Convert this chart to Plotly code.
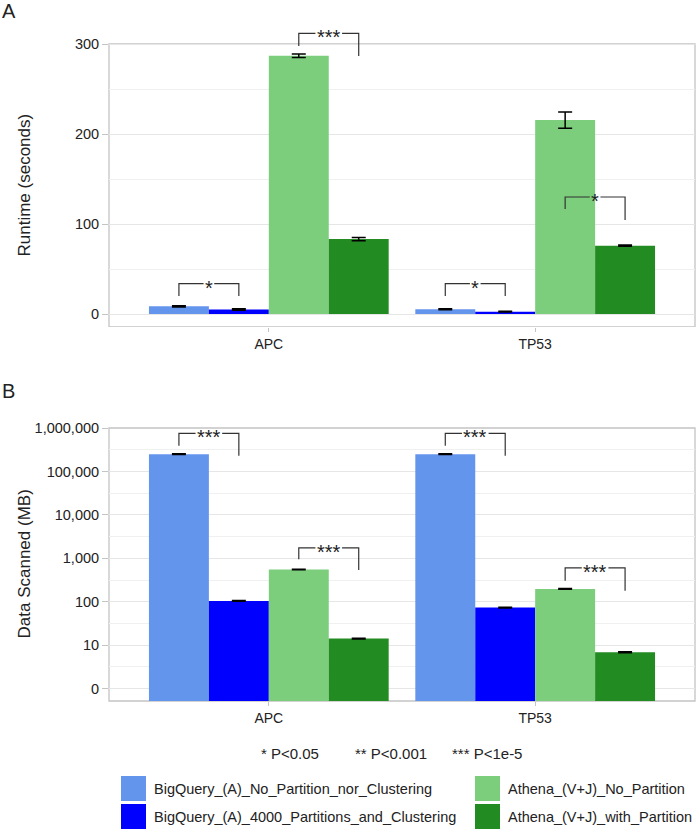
import plotly.graph_objects as go
from plotly.subplots import make_subplots

# ---------------- data ----------------
categories = ["APC", "TP53"]
series = [
    "BigQuery_(A)_No_Partition_nor_Clustering",
    "BigQuery_(A)_4000_Partitions_and_Clustering",
    "Athena_(V+J)_No_Partition",
    "Athena_(V+J)_with_Partition",
]
colors = ["#6495ED", "#0000FF", "#7CCD7C", "#228B22"]

runtime_s1 = [8.5, 5.2]
runtime_s2 = [5.0, 2.6]
runtime_s3 = [287.0, 215.5]
runtime_s4 = [83.3, 75.9]
runtime_err_s1 = [0.8, 0.5]
runtime_err_s2 = [0.8, 0.4]
runtime_err_s3 = [2.0, 9.0]
runtime_err_s4 = [1.8, 0.7]

scanned_s1 = [250000, 250000]
scanned_s2 = [104, 73.5]
scanned_s3 = [552, 197]
scanned_s4 = [14.2, 6.86]
scanned_err_s1 = [5000, 5000]
scanned_err_s2 = [2.0, 1.5]
scanned_err_s3 = [10.0, 4.0]
scanned_err_s4 = [0.3, 0.15]

runtime_ticks = [0, 100, 200, 300]
scanned_ticks = [1, 10, 100, 1000, 10000, 100000, 1000000]
scanned_ticktext = ["0", "10", "100", "1,000", "10,000", "100,000", "1,000,000"]
pvalue_legend = ["* P<0.05", "** P<0.001", "*** P<1e-5"]

# significance brackets: (category index, series a, series b, label, top, tip a, tip b)
sig_runtime = [
    (0, 0, 1, "*", 33.7, 20.0, 20.0),
    (1, 0, 1, "*", 33.7, 20.0, 20.0),
    (0, 2, 3, "***", 311.9, 297.8, 286.7),
    (1, 2, 3, "*", 130.0, 116.7, 104.4),
]
# heights in log10(MB)
sig_scanned = [
    (0, 0, 1, "***", 5.876, 5.59, 5.36),
    (1, 0, 1, "***", 5.876, 5.59, 5.36),
    (0, 2, 3, "***", 3.24, 2.98, 2.73),
    (1, 2, 3, "***", 2.78, 2.48, 2.25),
]

runtime = [runtime_s1, runtime_s2, runtime_s3, runtime_s4]
runtime_err = [runtime_err_s1, runtime_err_s2, runtime_err_s3, runtime_err_s4]
scanned = [scanned_s1, scanned_s2, scanned_s3, scanned_s4]
scanned_err = [scanned_err_s1, scanned_err_s2, scanned_err_s3, scanned_err_s4]

# ---------------- layout geometry ----------------
W, H = 698, 831
ML, MR, MT, MB = 109, 3, 27, 130
PW = W - ML - MR
PH = H - MT - MB

def px_x(px):
    return (px - ML) / PW

def px_y(py):
    return (H - MB - py) / PH

A_dom = [px_y(327), 1.0]
B_dom = [0.0, px_y(428)]
A_range = [-14.44, 318.9]
B_range = [-0.286, 6.0]

FONT = "Liberation Sans, Arial, Helvetica, sans-serif"
GRID = "#E6E6E6"
MINOR = "#F0F0F0"
FRAME = "#C4C4C4"
TXT = "#222222"

fig = make_subplots(rows=2, cols=1, vertical_spacing=0.05)

for i, name in enumerate(series):
    fig.add_trace(go.Bar(
        x=categories, y=runtime[i], name=name, marker=dict(color=colors[i], line=dict(width=0)),
        error_y=dict(type="data", array=runtime_err[i], color="black", thickness=1.5, width=7),
        showlegend=False), row=1, col=1)
for i, name in enumerate(series):
    fig.add_trace(go.Bar(
        x=categories, y=scanned[i], name=name, marker=dict(color=colors[i], line=dict(width=0)),
        error_y=dict(type="data", array=scanned_err[i], color="black", thickness=1.5, width=7),
        showlegend=False), row=2, col=1)

bargap = 0.1
nser = len(series)
bw = (1 - bargap) / nser
def bar_center(cat, s):
    return cat - (1 - bargap) / 2 + bw * (s + 0.5)

shapes = []
annots = []
LINE = dict(color="#333333", width=1.2)

def bracket(xref, yref, cat, a, b, label, top, ta, tb, ytrans):
    xa = bar_center(cat, a)
    xb = bar_center(cat, b)
    xm = (xa + xb) / 2
    gap = 0.05 if len(label) == 3 else 0.02
    yt, ya, yb = ytrans(top), ytrans(ta), ytrans(tb)
    shapes.append(dict(type="path", xref=xref, yref=yref,
                       path=f"M {xa},{ya} L {xa},{yt} L {xm-gap},{yt}", line=LINE))
    shapes.append(dict(type="path", xref=xref, yref=yref,
                       path=f"M {xm+gap},{yt} L {xb},{yt} L {xb},{yb}", line=LINE))
    annots.append(dict(xref=xref, yref=yref, x=xm, y=yt, text=label, showarrow=False,
                       xanchor="center", yanchor="middle", yshift=-4,
                       font=dict(family=FONT, size=20, color=TXT)))

for (cat, a, b, lab, top, ta, tb) in sig_runtime:
    bracket("x", "y", cat, a, b, lab, top, ta, tb, lambda v: v)
for (cat, a, b, lab, top, ta, tb) in sig_scanned:
    bracket("x2", "y2 domain", cat, a, b, lab, top, ta, tb,
            lambda v: (v - B_range[0]) / (B_range[1] - B_range[0]))

# frames
shapes.append(dict(type="rect", xref="x domain", yref="y", x0=0, x1=1, y0=A_range[0], y1=300,
                   line=dict(color=FRAME, width=1.3), layer="below"))
shapes.append(dict(type="rect", xref="x2 domain", yref="y2 domain", x0=0, x1=1, y0=0, y1=1,
                   line=dict(color=FRAME, width=1.3), layer="below"))

# axis titles and panel letters
annots.append(dict(xref="paper", yref="paper", x=px_x(24), y=(A_dom[0] + px_y(44)) / 2,
                   text="Runtime (seconds)", textangle=-90, showarrow=False,
                   xanchor="center", yanchor="middle", font=dict(family=FONT, size=17, color=TXT)))
annots.append(dict(xref="paper", yref="paper", x=px_x(24), y=(B_dom[0] + B_dom[1]) / 2,
                   text="Data Scanned (MB)", textangle=-90, showarrow=False,
                   xanchor="center", yanchor="middle", font=dict(family=FONT, size=17, color=TXT)))
annots.append(dict(xref="paper", yref="paper", x=px_x(0), y=px_y(11), text="A", showarrow=False,
                   xanchor="left", yanchor="middle", font=dict(family=FONT, size=20, color=TXT)))
annots.append(dict(xref="paper", yref="paper", x=px_x(0), y=px_y(391), text="B", showarrow=False,
                   xanchor="left", yanchor="middle", font=dict(family=FONT, size=20, color=TXT)))

# p-value legend
pv_x = [259, 353, 450]
for t, xx in zip(pvalue_legend, pv_x):
    annots.append(dict(xref="paper", yref="paper", x=px_x(xx), y=px_y(754), text=t, showarrow=False,
                       xanchor="left", yanchor="middle", font=dict(family=FONT, size=15, color=TXT)))

# manual legend
leg_pos = [(121, 776), (121, 804), (475, 776), (475, 804)]
for i, name in enumerate(series):
    x0, y0 = leg_pos[i]
    shapes.append(dict(type="rect", xref="paper", yref="paper",
                       x0=px_x(x0), x1=px_x(x0 + 25), y0=px_y(y0), y1=px_y(y0 + 25),
                       fillcolor=colors[i], line=dict(width=0)))
    annots.append(dict(xref="paper", yref="paper", x=px_x(x0 + 31), y=px_y(y0 + 13), text=name,
                       showarrow=False, xanchor="left", yanchor="middle",
                       font=dict(family=FONT, size=14.5, color=TXT)))

fig.update_layout(
    width=W, height=H, margin=dict(l=ML, r=MR, t=MT, b=MB, autoexpand=False),
    paper_bgcolor="white", plot_bgcolor="white",
    barmode="group", bargap=bargap, bargroupgap=0,
    shapes=shapes, annotations=annots, showlegend=False,
    font=dict(family=FONT, color=TXT),
)
xax = dict(range=[-0.6, 1.6], showgrid=False, showline=False, zeroline=False,
           ticks="outside", ticklen=4, tickcolor=FRAME, tickwidth=1.2,
           tickfont=dict(family=FONT, size=14, color=TXT))
fig.update_xaxes(**xax, row=1, col=1)
fig.update_xaxes(**xax, row=2, col=1)
fig.update_yaxes(domain=A_dom, range=A_range, tickvals=runtime_ticks, showgrid=True, gridcolor=GRID,
                 gridwidth=1, zeroline=False, showline=False, ticks="outside", ticklen=6,
                 tickcolor=FRAME, tickwidth=1.2, tickfont=dict(family=FONT, size=14.5, color=TXT),
                 minor=dict(tickvals=[50, 150, 250], showgrid=True, gridcolor=MINOR, ticks=""),
                 row=1, col=1)
fig.update_yaxes(domain=B_dom, type="log", range=B_range, tickvals=scanned_ticks,
                 ticktext=scanned_ticktext, showgrid=True, gridcolor=GRID, gridwidth=1,
                 zeroline=False, showline=False, ticks="outside", ticklen=6,
                 tickcolor=FRAME, tickwidth=1.2, tickfont=dict(family=FONT, size=14.5, color=TXT),
                 minor=dict(tickvals=[10 ** (k + 0.5) for k in range(6)], showgrid=True,
                            gridcolor=MINOR, ticks=""),
                 row=2, col=1)

fig.write_html("out.html", config={"displayModeBar": False},
               post_script="document.body.style.margin='0px';")
